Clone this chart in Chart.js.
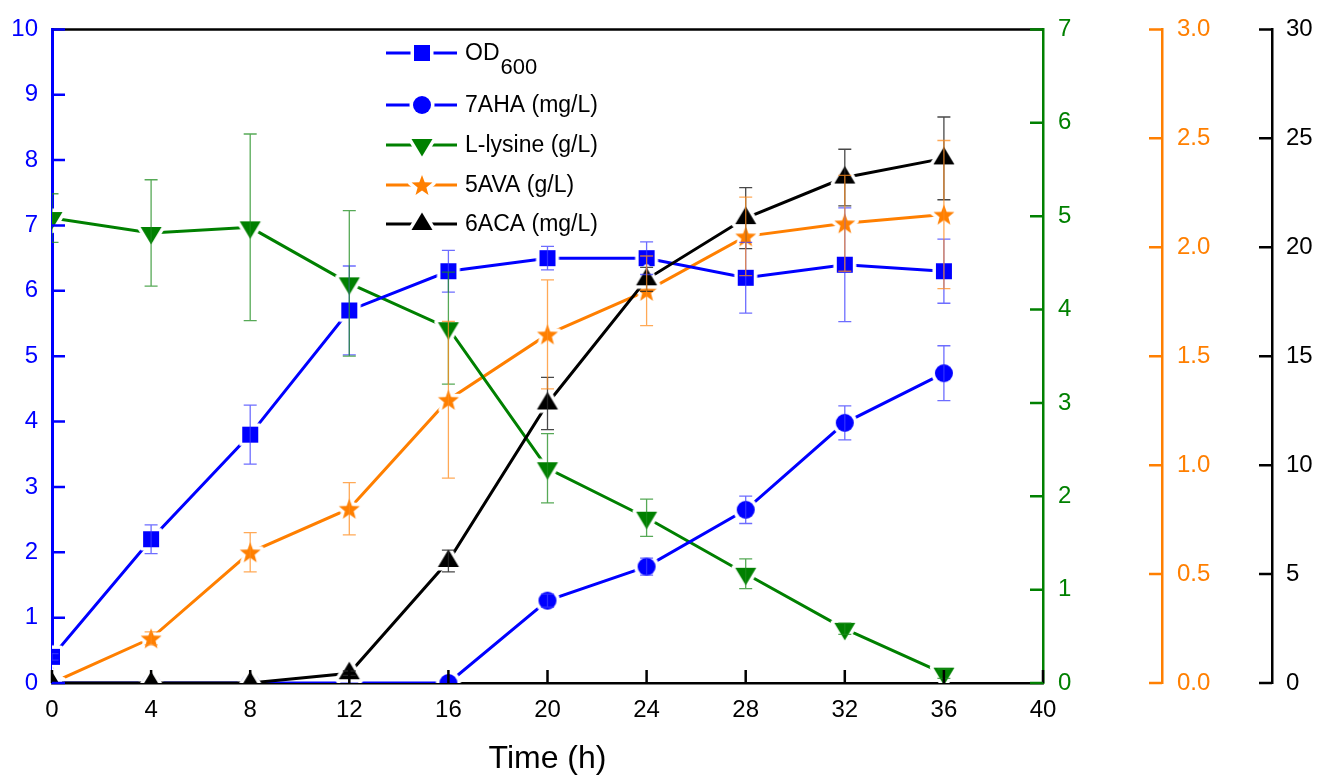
<!DOCTYPE html>
<html>
<head>
<meta charset="utf-8">
<title>Fermentation time course</title>
<script src="https://cdn.jsdelivr.net/npm/chart.js@4.4.1/dist/chart.umd.min.js"></script>
<style>
  html, body { margin: 0; padding: 0; background: #fff; }
  #wrap { position: relative; width: 1320px; height: 778px; }
</style>
</head>
<body>
<div id="wrap"><canvas id="chart"></canvas></div>
<script>
(function () {

  // time points (h)
  var times = [0, 4, 8, 12, 16, 20, 24, 28, 32, 36];

  // OD600 (left axis)
  var od600 = [0.4, 2.2, 3.8, 5.7, 6.3, 6.5, 6.5, 6.2, 6.4, 6.3];
  var od600Err = [0.05, 0.22, 0.45, 0.68, 0.32, 0.18, 0.25, 0.54, 0.87, 0.49];

  // 7AHA mg/L (left axis)
  var aha7 = [0, 0, 0, 0, 0, 1.26, 1.78, 2.65, 3.98, 4.74];
  var aha7Err = [0, 0, 0, 0, 0, 0.1, 0.13, 0.21, 0.26, 0.42];

  // L-lysine g/L (green axis)
  var lysine = [4.98, 4.82, 4.88, 4.28, 3.8, 2.3, 1.77, 1.17, 0.58, 0.1];
  var lysineErr = [0.26, 0.57, 1.0, 0.78, 0.6, 0.37, 0.2, 0.16, 0.06, 0.05];

  // 5AVA g/L (orange axis)
  var ava5 = [0, 0.205, 0.6, 0.8, 1.3, 1.6, 1.8, 2.05, 2.11, 2.15];
  var ava5Err = [0, 0.03, 0.09, 0.12, 0.36, 0.25, 0.16, 0.18, 0.22, 0.34];

  // 6ACA mg/L (black axis)
  var aca6 = [0, 0, 0, 0.45, 5.6, 12.83, 18.53, 21.34, 23.2, 24.08];
  var aca6Err = [0, 0, 0, 0.1, 0.5, 1.2, 0.55, 1.4, 1.3, 1.9];

  var BLUE = '#0000ff', GREEN = '#008000', ORANGE = '#ff7f00', BLACK = '#000000';
  var FONT = "'Liberation Sans', Arial, Helvetica, sans-serif";

  // marker with a white halo so the line stops short of it
  function makeMarker(shape, color) {
    var c = document.createElement('canvas');
    c.width = 36; c.height = 36;
    var g = c.getContext('2d');
    g.translate(18, 18);
    g.beginPath();
    if (shape === 'square') {
      g.rect(-8, -8, 16, 16);
    } else if (shape === 'circle') {
      g.arc(0, 0, 9, 0, Math.PI * 2);
    } else if (shape === 'down') {
      g.moveTo(-10.5, -6); g.lineTo(10.5, -6); g.lineTo(0, 11.5); g.closePath();
    } else if (shape === 'up') {
      g.moveTo(-10.5, 6); g.lineTo(10.5, 6); g.lineTo(0, -11.5); g.closePath();
    } else if (shape === 'star') {
      for (var k = 0; k < 10; k++) {
        var r = k % 2 ? 4.6 : 11;
        var a = -Math.PI / 2 + k * Math.PI / 5;
        g.lineTo(r * Math.cos(a), r * Math.sin(a) + 1);
      }
      g.closePath();
    }
    g.lineJoin = 'round';
    g.strokeStyle = '#fff';
    g.lineWidth = 7;
    g.stroke();
    g.fillStyle = color;
    g.fill();
    return c;
  }

  var mSquare = makeMarker('square', BLUE);
  var mCircle = makeMarker('circle', BLUE);
  var mDown = makeMarker('down', GREEN);
  var mStar = makeMarker('star', ORANGE);
  var mUp = makeMarker('up', BLACK);

  function series(label, values, errs, color, errColor, axis, marker) {
    return {
      label: label,
      data: times.map(function (t, i) { return { x: t, y: values[i] }; }),
      errors: errs,
      errColor: errColor,
      yAxisID: axis,
      borderColor: color,
      backgroundColor: color,
      borderWidth: 3,
      pointStyle: marker,
      pointRadius: 10,
      pointHoverRadius: 10,
      tension: 0,
      fill: false,
      clip: 0
    };
  }

  // first dataset is drawn on top
  var datasets = [
    series('6ACA (mg/L)', aca6, aca6Err, BLACK, 'rgba(40,40,40,0.85)', 'y4', mUp),
    series('7AHA (mg/L)', aha7, aha7Err, BLUE, 'rgba(60,60,255,0.75)', 'y', mCircle),
    series('OD600', od600, od600Err, BLUE, 'rgba(60,60,255,0.75)', 'y', mSquare),
    series('L-lysine (g/L)', lysine, lysineErr, GREEN, 'rgba(30,140,30,0.75)', 'y2', mDown),
    series('5AVA (g/L)', ava5, ava5Err, ORANGE, 'rgba(255,140,30,0.75)', 'y3', mStar)
  ];

  var legendRows = [
    { text: 'OD', sub: '600', color: BLUE, marker: mSquare },
    { text: '7AHA (mg/L)', color: BLUE, marker: mCircle },
    { text: 'L-lysine (g/L)', color: GREEN, marker: mDown },
    { text: '5AVA (g/L)', color: ORANGE, marker: mStar },
    { text: '6ACA (mg/L)', color: BLACK, marker: mUp }
  ];
  var legendY = [53, 105, 145, 185, 224];

  var extras = {
    id: 'extras',
    afterDatasetsDraw: function (chart) {
      var ctx = chart.ctx, area = chart.chartArea;
      ctx.save();
      ctx.beginPath();
      ctx.rect(area.left, area.top, area.right - area.left, area.bottom - area.top);
      ctx.clip();
      chart.data.datasets.forEach(function (ds, i) {
        var meta = chart.getDatasetMeta(i);
        var ys = chart.scales[ds.yAxisID];
        ds.errors.forEach(function (e, j) {
          if (!e) return;
          var v = ds.data[j].y, x = meta.data[j].x;
          var y1 = ys.getPixelForValue(v + e), y2 = ys.getPixelForValue(v - e);
          ctx.strokeStyle = ds.errColor;
          ctx.lineWidth = 1.3;
          ctx.beginPath();
          ctx.moveTo(x, y1); ctx.lineTo(x, y2);
          ctx.moveTo(x - 6.5, y1); ctx.lineTo(x + 6.5, y1);
          ctx.moveTo(x - 6.5, y2); ctx.lineTo(x + 6.5, y2);
          ctx.stroke();
        });
      });
      ctx.restore();
    },
    afterDraw: function (chart) {
      var ctx = chart.ctx, area = chart.chartArea, s = chart.scales;
      ctx.save();
      ctx.lineCap = 'butt';

      // top frame
      ctx.strokeStyle = BLACK;
      ctx.lineWidth = 2.5;
      ctx.beginPath();
      ctx.moveTo(area.left, area.top);
      ctx.lineTo(area.right, area.top);
      ctx.stroke();

      // inward tick marks
      function ticks(scale, color, dir, horizontal) {
        ctx.strokeStyle = color;
        ctx.lineWidth = 2.5;
        ctx.beginPath();
        scale.ticks.forEach(function (t) {
          var p = scale.getPixelForValue(t.value);
          if (horizontal) {
            ctx.moveTo(p, area.bottom); ctx.lineTo(p, area.bottom - 13);
          } else {
            var x0 = scale.left + (dir > 0 ? scale.width : 0);
            ctx.moveTo(x0, p);
            ctx.lineTo(x0 + dir * 13, p);
          }
        });
        ctx.stroke();
      }
      ticks(s.x, BLACK, 0, true);
      ticks(s.y, BLUE, 1, false);
      ticks(s.y2, GREEN, -1, false);
      ticks(s.y3, ORANGE, -1, false);
      ticks(s.y4, BLACK, -1, false);

      // legend
      legendRows.forEach(function (row, i) {
        var y = legendY[i];
        ctx.strokeStyle = row.color;
        ctx.lineWidth = 3;
        ctx.beginPath();
        ctx.moveTo(386, y); ctx.lineTo(457, y);
        ctx.stroke();
        ctx.drawImage(row.marker, 422 - 18, y - 18);
        ctx.fillStyle = BLACK;
        ctx.textBaseline = 'middle';
        ctx.textAlign = 'left';
        ctx.font = '23px ' + FONT;
        ctx.fillText(row.text, 465, y + 1);
        if (row.sub) {
          var w = ctx.measureText(row.text).width;
          ctx.font = '22px ' + FONT;
          ctx.fillText(row.sub, 466 + w, y + 15);
        }
      });
      ctx.restore();
    }
  };

  function fixedWidth(w) { return function (scale) { scale.width = w; }; }

  new Chart(document.getElementById('chart'), {
    type: 'line',
    data: { datasets: datasets },
    plugins: [extras],
    options: {
      responsive: true,
      maintainAspectRatio: false,
      animation: false,
      layout: { padding: { top: 25, left: 0, right: 0, bottom: 0 } },
      plugins: {
        legend: { display: false },
        tooltip: { enabled: false }
      },
      scales: {
        x: {
          type: 'linear',
          min: 0, max: 40,
          afterFit: function (scale) { scale.height = 95; },
          ticks: { stepSize: 4, color: BLACK, font: { family: FONT, size: 24 }, padding: 13, maxRotation: 0 },
          grid: { display: false, drawTicks: false },
          border: { display: true, color: BLACK, width: 2.5 },
          title: { display: true, text: 'Time (h)', color: BLACK, font: { family: FONT, size: 32 }, padding: { top: 0, bottom: 0 } }
        },
        y: {
          position: 'left',
          min: 0, max: 10,
          afterFit: fixedWidth(52),
          ticks: { stepSize: 1, color: BLUE, font: { family: FONT, size: 24 }, padding: 14 },
          grid: { display: false, drawTicks: false },
          border: { display: true, color: BLUE, width: 3 }
        },
        y2: {
          position: 'right', weight: 0,
          min: 0, max: 7,
          afterFit: fixedWidth(119),
          ticks: { stepSize: 1, color: GREEN, font: { family: FONT, size: 24 }, padding: 15 },
          grid: { display: false, drawTicks: false },
          border: { display: true, color: GREEN, width: 2.5 }
        },
        y3: {
          position: 'right', weight: 1,
          min: 0, max: 3,
          afterFit: fixedWidth(110),
          ticks: { stepSize: 0.5, color: ORANGE, font: { family: FONT, size: 24 }, padding: 15,
            callback: function (v) { return Number(v).toFixed(1); } },
          grid: { display: false, drawTicks: false },
          border: { display: true, color: ORANGE, width: 2.5 }
        },
        y4: {
          position: 'right', weight: 2,
          min: 0, max: 30,
          afterFit: fixedWidth(48),
          ticks: { stepSize: 5, color: BLACK, font: { family: FONT, size: 24 }, padding: 14 },
          grid: { display: false, drawTicks: false },
          border: { display: true, color: BLACK, width: 2.5 }
        }
      }
    }
  });
})();
</script>
</body>
</html>
